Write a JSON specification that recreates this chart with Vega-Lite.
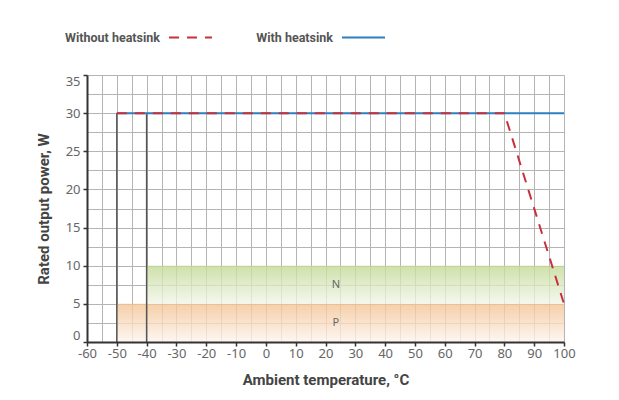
{
  "$schema": "https://vega.github.io/schema/vega-lite/v6.json",
  "width": 477,
  "height": 267,
  "autosize": "none",
  "padding": {"left": 87, "top": 75, "right": 55, "bottom": 58},
  "background": "white",
  "config": {
    "view": {"stroke": null},
    "font": "Roboto",
    "legend": {
      "orient": "none",
      "legendX": 81,
      "legendY": -60,
      "direction": "horizontal",
      "title": null,
      "labelFont": "Roboto",
      "labelFontSize": 12.5,
      "labelFontWeight": "bold",
      "labelColor": "#555",
      "symbolType": "stroke",
      "symbolSize": 1849,
      "symbolStrokeWidth": 2,
      "labelAlign": "right",
      "labelOffset": -53,
      "columnPadding": 40
    }
  },
  "datasets": {
    "zones": [
      {"zone": "P", "t": -50, "t2": 100, "p": 0, "p2": 5},
      {"zone": "N", "t": -40, "t2": 100, "p": 5, "p2": 10}
    ],
    "lines": [
      {"series": "With heatsink", "t": -50, "p": 30},
      {"series": "With heatsink", "t": 100, "p": 30},
      {"series": "Without heatsink", "t": -50, "p": 30},
      {"series": "Without heatsink", "t": 80, "p": 30},
      {"series": "Without heatsink", "t": 100, "p": 5}
    ],
    "verts": [
      {"t": -50, "p": 0, "p2": 30},
      {"t": -40, "p": 0, "p2": 30}
    ],
    "labels": [
      {"zone": "N", "t": 23.5, "p": 7.5},
      {"zone": "P", "t": 23.5, "p": 2.5}
    ]
  },
  "resolve": {"axis": {"x": "independent", "y": "independent"}},
  "layer": [
    {
      "data": {"name": "zones"},
      "transform": [{"filter": "datum.zone == 'P'"}],
      "mark": {
        "type": "rect",
        "opacity": 0.8,
        "color": {"gradient": "linear", "x1": 0, "y1": 0, "x2": 0, "y2": 1,
          "stops": [{"offset": 0, "color": "#f4c393"}, {"offset": 1, "color": "#fdf5ee"}]}
      },
      "encoding": {
        "x": {
          "field": "t", "type": "quantitative",
          "scale": {"domain": [-60, 100], "nice": false, "zero": false},
          "axis": {
            "orient": "bottom",
            "values": [-60,-55,-50,-45,-40,-35,-30,-25,-20,-15,-10,-5,0,5,10,15,20,25,30,35,40,45,50,55,60,65,70,75,80,85,90,95,100],
            "grid": true, "gridColor": "#b4b4b4", "gridWidth": 1,
            "domain": false, "ticks": false, "labels": false, "title": null,
            "zindex": 0
          }
        },
        "x2": {"field": "t2"},
        "y": {
          "field": "p", "type": "quantitative",
          "scale": {"domain": [0, 35], "nice": false},
          "axis": {
            "orient": "left",
            "values": [0,2.5,5,7.5,10,12.5,15,17.5,20,22.5,25,27.5,30,32.5,35],
            "grid": true, "gridColor": "#b4b4b4", "gridWidth": 1,
            "domain": false, "ticks": false, "labels": false, "title": null,
            "zindex": 0
          }
        },
        "y2": {"field": "p2"}
      }
    },
    {
      "data": {"name": "zones"},
      "transform": [{"filter": "datum.zone == 'N'"}],
      "mark": {
        "type": "rect",
        "opacity": 0.8,
        "color": {"gradient": "linear", "x1": 0, "y1": 0, "x2": 0, "y2": 1,
          "stops": [{"offset": 0, "color": "#c3d995"}, {"offset": 1, "color": "#f2f6ea"}]}
      },
      "encoding": {
        "x": {"field": "t", "type": "quantitative", "axis": null},
        "x2": {"field": "t2"},
        "y": {"field": "p", "type": "quantitative", "axis": null},
        "y2": {"field": "p2"}
      }
    },
    {
      "data": {"name": "verts"},
      "mark": {"type": "rule", "color": "#555", "strokeWidth": 1.5},
      "encoding": {
        "x": {"field": "t", "type": "quantitative", "axis": null},
        "y": {"field": "p", "type": "quantitative", "axis": null},
        "y2": {"field": "p2"}
      }
    },
    {
      "data": {"name": "labels"},
      "mark": {"type": "text", "font": "Noto Sans", "fontSize": 11, "color": "#666"},
      "encoding": {
        "x": {"field": "t", "type": "quantitative", "axis": null},
        "y": {"field": "p", "type": "quantitative", "axis": null},
        "text": {"field": "zone"}
      }
    },
    {
      "data": {"name": "lines"},
      "mark": {"type": "line", "strokeWidth": 2},
      "encoding": {
        "x": {
          "field": "t", "type": "quantitative",
          "axis": {
            "orient": "bottom",
            "values": [-60,-50,-40,-30,-20,-10,0,10,20,30,40,50,60,70,80,90,100],
            "labelExpr": "'' + datum.value",
            "grid": false,
            "domainColor": "#333", "domainWidth": 2,
            "tickColor": "#333", "tickWidth": 1.5, "tickSize": 4,
            "labelFont": "Noto Sans", "labelFontSize": 13, "labelColor": "#666",
            "labelPadding": 1, "labelFlush": false, "labelOverlap": false,
            "title": "Ambient temperature, °C",
            "titleFont": "Roboto", "titleFontSize": 15, "titleFontWeight": "bold",
            "titleColor": "#444", "titlePadding": 12,
            "zindex": 1
          }
        },
        "y": {
          "field": "p", "type": "quantitative",
          "axis": {
            "orient": "left",
            "values": [0,5,10,15,20,25,30,35],
            "labelExpr": "'' + datum.value",
            "grid": false,
            "domainColor": "#333", "domainWidth": 2,
            "tickColor": "#333", "tickWidth": 1.5, "tickSize": 4,
            "labelFont": "Noto Sans", "labelFontSize": 13, "labelColor": "#666",
            "labelPadding": 3, "labelFlush": true, "labelOverlap": false,
            "title": "Rated output power, W",
            "titleFont": "Roboto", "titleFontSize": 15, "titleFontWeight": "bold",
            "titleColor": "#444", "titlePadding": 14,
            "zindex": 1
          }
        },
        "color": {
          "field": "series", "type": "nominal",
          "scale": {"domain": ["Without heatsink", "With heatsink"], "range": ["#c8303c", "#2a80c0"]}
        },
        "strokeDash": {
          "field": "series", "type": "nominal",
          "scale": {"domain": ["Without heatsink", "With heatsink"], "range": [[10, 8], [1, 0]]}
        }
      }
    }
  ]
}
